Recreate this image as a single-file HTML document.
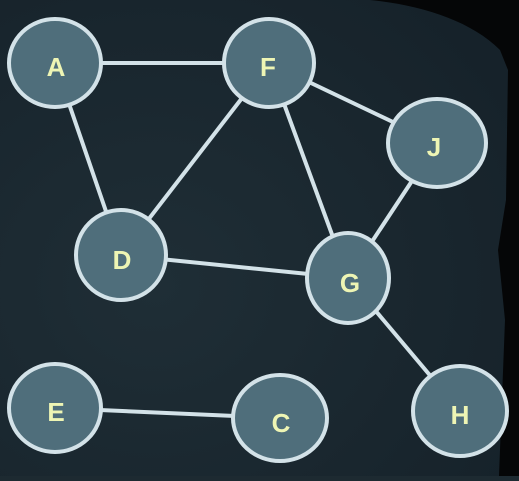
<!DOCTYPE html>
<html><head><style>body{margin:0;width:519px;height:476px;overflow:hidden;background:#1d2a31}</style></head><body>
<svg width="519" height="476" xmlns="http://www.w3.org/2000/svg">
<defs><radialGradient id="bg" cx="0.3" cy="0.6" r="0.8"><stop offset="0" stop-color="#1f2e36"/><stop offset="1" stop-color="#16222a"/></radialGradient></defs>
<rect width="519" height="476" fill="url(#bg)"/>
<path d="M370,0 C420,5 470,20 500,50 L508,70 L506,200 L498,250 L505,320 L499,476 L519,476 L519,0 Z" fill="#050607"/>
<g stroke="#d3e2e8" stroke-width="4" fill="none">
<line x1="55" y1="63" x2="269" y2="63"/><line x1="55" y1="63" x2="121" y2="255"/>
<line x1="269" y1="63" x2="121" y2="255"/><line x1="269" y1="63" x2="348" y2="278"/>
<line x1="269" y1="63" x2="437" y2="143"/><line x1="437" y1="143" x2="348" y2="278"/>
<line x1="121" y1="255" x2="348" y2="278"/><line x1="348" y1="278" x2="460" y2="411"/>
<line x1="55" y1="408" x2="280" y2="418"/>
</g>
<g stroke="#d3e2e8" stroke-width="4" fill="#4f6e7b">
<ellipse cx="55" cy="63" rx="46" ry="44"/><ellipse cx="269" cy="63" rx="45" ry="44"/>
<ellipse cx="437" cy="143" rx="49" ry="44"/><ellipse cx="121" cy="255" rx="45" ry="45"/>
<ellipse cx="348" cy="278" rx="41" ry="45"/><ellipse cx="55" cy="408" rx="46" ry="44"/>
<ellipse cx="280" cy="418" rx="47" ry="43"/><ellipse cx="460" cy="411" rx="47" ry="45"/>
</g>
<g fill="#eef5b4" font-family="Liberation Sans, sans-serif" font-weight="bold" font-size="26" text-anchor="middle">
<text x="56" y="76">A</text><text x="268" y="76">F</text><text x="434" y="156">J</text>
<text x="122" y="269">D</text><text x="350" y="292">G</text><text x="56" y="421">E</text>
<text x="281" y="432">C</text><text x="460" y="424">H</text>
</g>
</svg>
</body></html>
